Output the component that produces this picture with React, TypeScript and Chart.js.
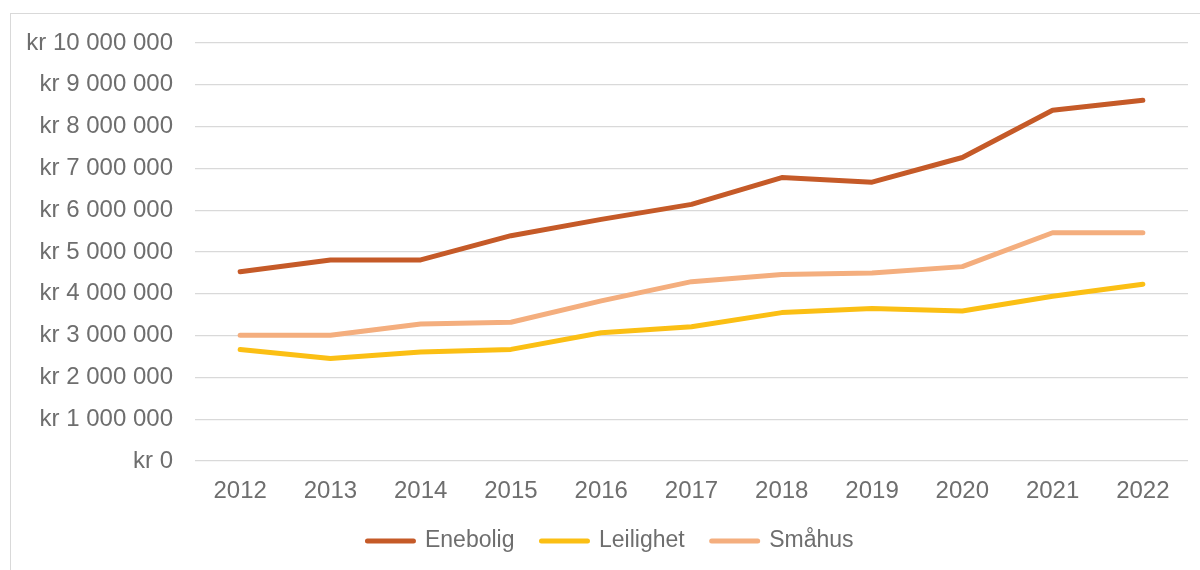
import React, { useEffect, useRef } from "react";
import { Chart, registerables } from "chart.js";

Chart.register(...registerables);

const years = ["2012", "2013", "2014", "2015", "2016", "2017", "2018", "2019", "2020", "2021", "2022"];
const enebolig = [4530000, 4810000, 4810000, 5390000, 5780000, 6140000, 6780000, 6670000, 7260000, 8390000, 8630000];
const leilighet = [2670000, 2450000, 2610000, 2670000, 3070000, 3210000, 3550000, 3650000, 3590000, 3940000, 4230000];
const smahus = [3010000, 3010000, 3280000, 3320000, 3830000, 4290000, 4460000, 4500000, 4650000, 5460000, 5460000];
const yMax = 10000000;
const yStep = 1000000;

const TEXT = "#6e6e6e";
const FONT = "'Liberation Sans', Arial, sans-serif";

function formatKr(v: number): string {
  const s = Math.round(v).toString().replace(/\B(?=(\d{3})+(?!\d))/g, " ");
  return "kr " + s;
}

const legendShift = {
  id: "legendShift",
  afterLayout(chart: any) {
    const lg = chart.legend;
    if (lg) {
      lg.left += 11;
      lg.right += 11;
    }
  },
};

export default function App() {
  const ref = useRef<HTMLCanvasElement | null>(null);
  useEffect(() => {
    if (!ref.current) return;
    const chart = new Chart(ref.current, {
      type: "line",
      data: {
        labels: years,
        datasets: [
          { label: "Enebolig", data: enebolig, borderColor: "#C55A28", backgroundColor: "#C55A28" },
          { label: "Leilighet", data: leilighet, borderColor: "#FBBF14", backgroundColor: "#FBBF14" },
          { label: "Småhus", data: smahus, borderColor: "#F4AE7E", backgroundColor: "#F4AE7E" },
        ].map((d) => ({
          ...d,
          borderWidth: 5,
          pointRadius: 0,
          pointHoverRadius: 0,
          tension: 0,
          borderCapStyle: "round" as const,
          borderJoinStyle: "round" as const,
        })),
      },
      plugins: [legendShift],
      options: {
        animation: false,
        responsive: false,
        maintainAspectRatio: false,
        layout: { autoPadding: false, padding: { top: 29, right: 12, left: 0, bottom: 7.5 } },
        plugins: {
          tooltip: { enabled: false },
          legend: {
            position: "bottom",
            labels: {
              color: TEXT,
              font: { family: FONT, size: 23 },
              usePointStyle: true,
              pointStyleWidth: 46,
              boxHeight: 5,
              padding: 27,
              generateLabels: (c: any) =>
                c.data.datasets.map((ds: any, i: number) => ({
                  text: ds.label,
                  fillStyle: ds.borderColor,
                  strokeStyle: ds.borderColor,
                  lineWidth: 5,
                  lineCap: "round",
                  pointStyle: "line",
                  hidden: false,
                  datasetIndex: i,
                  fontColor: TEXT,
                })),
            },
          },
        },
        scales: {
          x: {
            offset: true,
            grid: { display: false, drawTicks: false, tickLength: 0 },
            border: { display: false },
            afterFit: (s: any) => {
              s.height = 41.5;
            },
            ticks: { color: TEXT, font: { family: FONT, size: 24 }, padding: 15.6, maxRotation: 0 },
          },
          y: {
            min: 0,
            max: yMax,
            grid: { color: "#d9d9d9", lineWidth: 1.3, drawTicks: false },
            border: { display: false },
            afterFit: (s: any) => {
              s.width = 184;
            },
            ticks: {
              stepSize: yStep,
              color: TEXT,
              font: { family: FONT, size: 24, lineHeight: 0.5 },
              padding: 22,
              callback: (v: any) => formatKr(Number(v)),
            },
          },
        },
      },
    });
    return () => chart.destroy();
  }, []);
  return (
    <div
      style={{
        position: "absolute",
        left: 10,
        top: 13,
        width: 1190,
        height: 557,
        boxSizing: "border-box",
        borderLeft: "1.5px solid #d9d9d9",
        borderTop: "1.5px solid #d9d9d9",
        background: "#fff",
      }}
    >
      <canvas ref={ref} width={1189} height={556} style={{ display: "block" }} />
    </div>
  );
}
